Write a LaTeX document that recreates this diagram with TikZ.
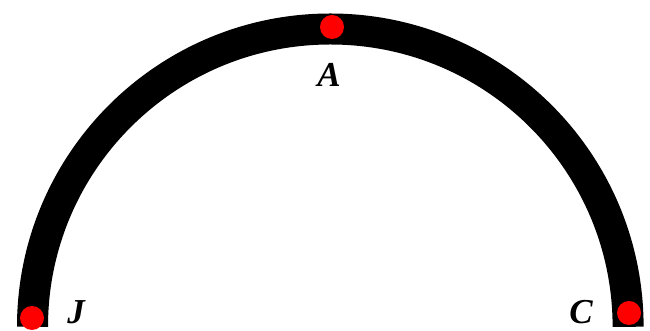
\documentclass[tikz,border=0pt]{standalone}
\usepackage{fontspec}
\setmainfont{Liberation Serif}
\begin{document}
\begin{tikzpicture}[x=1pt,y=1pt,
  band/.style={line width=31pt,black},
  reddot/.style={circle,fill=red,draw=none,minimum size=24pt,inner sep=0pt},
  lbl/.style={font=\fontsize{35}{35}\selectfont\bfseries\itshape,inner sep=0pt,anchor=base}]
\useasboundingbox (0,0) rectangle (650,331);
\coordinate (start) at (32.5,4.2);
\draw[band] (start) arc[start angle=180,end angle=0,radius=297.8];
\node[reddot] (A) at (332,304) {};
\node[reddot] (J) at (32,13) {};
\node[reddot] (C) at (629,18) {};
\node[lbl] (Alab) at (329,244.5) {A};
\node[lbl] (Jlab) at (76,7) {J};
\node[lbl] (Clab) at (581,7) {C};
\end{tikzpicture}
\end{document}
